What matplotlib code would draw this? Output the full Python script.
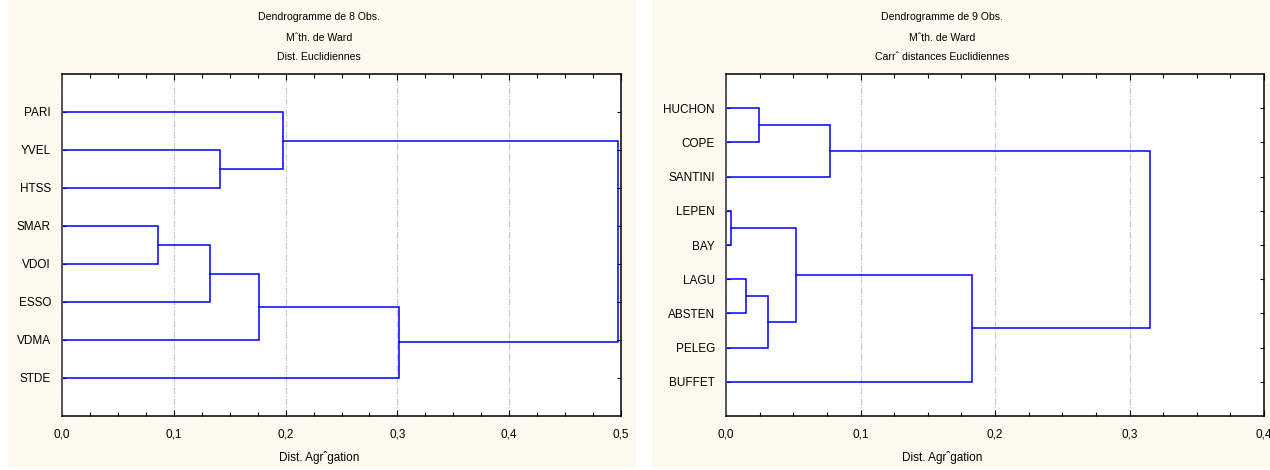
import matplotlib
matplotlib.use("Agg")
import matplotlib.pyplot as plt
from matplotlib import font_manager
from matplotlib.patches import Rectangle
from matplotlib.ticker import MultipleLocator, FuncFormatter

plt.rcParams['font.family'] = ['Liberation Sans', 'DejaVu Sans']

# left dendrogram: 8 obs, Ward, euclidean distances
labels_8 = ['PARI', 'YVEL', 'HTSS', 'SMAR', 'VDOI', 'ESSO', 'VDMA', 'STDE']
# (cluster a, cluster b, height) ; new clusters are numbered from len(labels)
merges_8 = [(3, 4, 0.086), (8, 5, 0.132), (1, 2, 0.141), (9, 6, 0.176),
            (0, 10, 0.198), (11, 7, 0.301), (12, 13, 0.497)]
titles_8 = ['Dendrogramme de 8 Obs.', 'M\u02c6th. de Ward', 'Dist. Euclidiennes']

# right dendrogram: 9 obs, Ward, squared euclidean distances
labels_9 = ['HUCHON', 'COPE', 'SANTINI', 'LEPEN', 'BAY', 'LAGU', 'ABSTEN', 'PELEG', 'BUFFET']
merges_9 = [(3, 4, 0.0037), (5, 6, 0.015), (0, 1, 0.0245), (10, 7, 0.031),
            (9, 12, 0.052), (11, 2, 0.0775), (13, 8, 0.183), (14, 15, 0.315)]
titles_9 = ['Dendrogramme de 9 Obs.', 'M\u02c6th. de Ward', 'Carr\u02c6 distances Euclidiennes']

xlabel = 'Dist. Agr\u02c6gation'

W, H = 1270, 470
cream = '#fef9ee'
blue = '#0000ff'
fs = 8.5

# titles look like a narrow face in the original
names = {f.name for f in font_manager.fontManager.ttflist}
if 'Liberation Sans Narrow' in names:
    title_font = dict(family=['Liberation Sans Narrow', 'Liberation Sans'], fontsize=8.5)
else:
    title_font = dict(fontsize=7.6)


def fx(x):
    return x / W


def fy(y):
    return 1 - y / H


def draw_dendro(ax, labels, merges):
    n = len(labels)
    pos = {i: i + 1 for i in range(n)}
    hgt = {i: 0.0 for i in range(n)}
    for k, (a, b, h) in enumerate(merges):
        ax.plot([hgt[a], h, h, hgt[b]], [pos[a], pos[a], pos[b], pos[b]],
                color=blue, lw=1.1, solid_joinstyle='miter')
        pos[n + k] = (pos[a] + pos[b]) / 2
        hgt[n + k] = h
    ax.set_ylim(n + 1, 0)
    ax.set_yticks(range(1, n + 1))
    ax.set_yticklabels(labels)


def panel(fig, bg, box, labels, merges, titles, xmax, center):
    fig.patches.append(Rectangle((fx(bg[0]), fy(bg[1])), fx(bg[2] - bg[0]), bg[1] / H,
                                 transform=fig.transFigure, facecolor=cream,
                                 edgecolor='none', zorder=-10))
    x0, y0, x1, y1 = box
    ax = fig.add_axes([fx(x0), fy(y1), fx(x1 - x0), (y1 - y0) / H])
    draw_dendro(ax, labels, merges)
    ax.set_xlim(0, xmax)
    ax.xaxis.set_major_locator(MultipleLocator(0.1))
    ax.xaxis.set_minor_locator(MultipleLocator(0.025))
    ax.xaxis.set_major_formatter(FuncFormatter(lambda v, p: ('%.1f' % v).replace('.', ',')))
    ax.grid(axis='x', which='major', color='#c8c8c8', lw=0.8,
            linestyle=(0, (6, 1.5, 1, 1.5)))
    ax.set_axisbelow(True)
    ax.tick_params(axis='x', which='both', direction='in', top=True, bottom=True,
                   labelsize=fs, pad=9)
    ax.tick_params(axis='x', which='major', length=4, width=0.8)
    ax.tick_params(axis='x', which='minor', length=3, width=0.8)
    ax.tick_params(axis='y', direction='in', left=True, right=True, length=3,
                   width=0.8, labelsize=fs, pad=8)
    for s in ax.spines.values():
        s.set_linewidth(1.1)
        s.set_color('black')
    ax.spines['left'].set_color('#555555')
    ax.spines['left'].set_linewidth(1.4)
    for t, y in zip(titles, [17, 38, 57]):
        fig.text(fx(center), fy(y), t, ha='center', va='center', **title_font)
    fig.text(fx(center), fy(457), xlabel, ha='center', va='center', fontsize=fs)
    return ax


fig = plt.figure(figsize=(W / 100, H / 100), dpi=100)
fig.patch.set_facecolor('white')

# background (x0, y_bottom, x1) and axes box (x0, y0, x1, y1), in pixels
panel(fig, (8, 467, 636), (62, 74, 621, 416), labels_8, merges_8, titles_8, 0.5, 319)
panel(fig, (652, 467, 1270), (726, 74, 1264, 416), labels_9, merges_9, titles_9, 0.4, 942)

fig.savefig('out.png', dpi=100)
